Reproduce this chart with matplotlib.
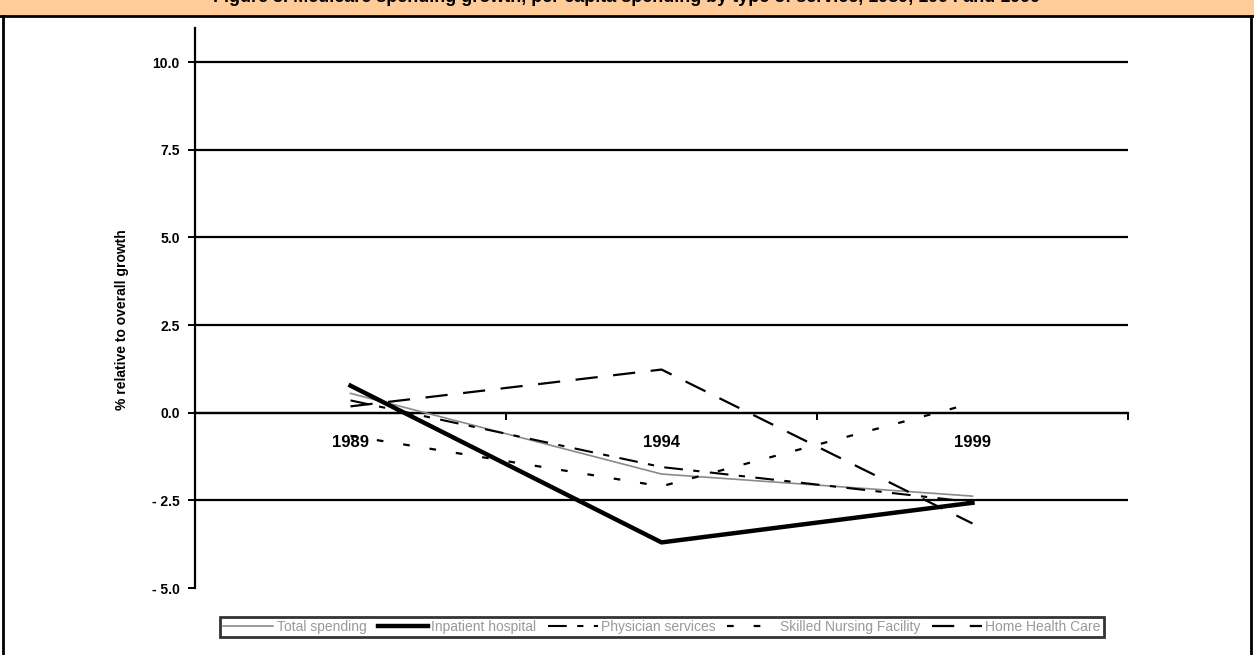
import matplotlib
matplotlib.use("Agg")
import matplotlib.pyplot as plt
from matplotlib.patches import Rectangle
from matplotlib.lines import Line2D

years = ["1989", "1994", "1999"]
total_spending = [0.55, -1.75, -2.38]
inpatient_hospital = [0.77, -3.70, -2.57]
physician_services = [0.35, -1.55, -2.55]
skilled_nursing = [-0.66, -2.10, 0.27]
home_health = [0.18, 1.23, -3.16]
series_names = ["Total spending", "Inpatient hospital", "Physician services",
                "Skilled Nursing Facility", "Home Health Care"]
ytick_values = [-5.0, -2.5, 0.0, 2.5, 5.0, 7.5, 10.0]
ytick_labels = ["- 5.0", "- 2.5", "0.0", "2.5", "5.0", "7.5", "10.0"]
title_text = "Figure 3. Medicare spending growth, per capita spending by type of service, 1989, 1994 and 1999"
ylabel_text = "% relative to overall growth"

W, H = 1254, 655
fig = plt.figure(figsize=(W / 100, H / 100), dpi=100)
fig.patch.set_facecolor("white")

# top band and frame
fig.patches.append(Rectangle((0, 1 - 15 / H), 1, 15 / H, transform=fig.transFigure,
                             facecolor="#FFCC99", edgecolor="none", zorder=0))
fig.lines.append(Line2D([0, 1], [1 - 16 / H, 1 - 16 / H], transform=fig.transFigure,
                        color="black", lw=2))
fig.lines.append(Line2D([3 / W, 3 / W], [0, 1 - 16 / H], transform=fig.transFigure,
                        color="black", lw=2))
fig.lines.append(Line2D([1 - 3 / W, 1 - 3 / W], [0, 1 - 16 / H], transform=fig.transFigure,
                        color="black", lw=2))
fig.text(0.5, 1 - 2 / H, title_text, ha="center", va="baseline",
         fontsize=13, fontweight="bold", family="Liberation Sans")

ax = fig.add_axes([195 / W, 1 - 588 / H, (1128 - 195) / W, (588 - 28) / H])
x = list(range(len(years)))
ax.set_xlim(-0.5, 2.5)
ax.set_ylim(-5.0, 10.97)

for v in ytick_values:
    if v != -5.0:
        ax.axhline(v, color="black", lw=1.6, zorder=1)

ax.plot(x, total_spending, color="#8a8a8a", lw=1.2, label=series_names[0], zorder=3)
ax.plot(x, inpatient_hospital, color="black", lw=3.2, label=series_names[1], zorder=3)
ax.plot(x, physician_services, color="black", lw=1.5, dashes=(9, 5, 3, 5),
        label=series_names[2], zorder=3)
ax.plot(x, skilled_nursing, color="black", lw=1.6, dashes=(3, 9),
        label=series_names[3], zorder=3)
ax.plot(x, home_health, color="black", lw=1.6, dashes=(10, 7),
        label=series_names[4], zorder=3)

for s in ["top", "right"]:
    ax.spines[s].set_visible(False)
ax.spines["left"].set_linewidth(1.6)
ax.spines["bottom"].set_position(("data", 0))
ax.spines["bottom"].set_linewidth(1.6)

ax.set_yticks(ytick_values)
ax.set_yticklabels(ytick_labels, fontsize=10, fontweight="bold", family="Liberation Sans")
ax.tick_params(axis="y", length=5, width=1.4, pad=6)

ax.set_xticks(x)
ax.set_xticklabels(years, fontsize=12, fontweight="bold", family="Liberation Sans")
ax.set_xticks([0.5, 1.5, 2.5], minor=True)
ax.tick_params(axis="x", which="major", length=0, pad=16)
ax.tick_params(axis="x", which="minor", length=5, width=1.4, direction="out")

ax.set_ylabel(ylabel_text, fontsize=10, fontweight="bold", family="Liberation Sans")
ax.yaxis.set_label_coords(-(195 - 129) / (1128 - 195), 0.48)

leg = fig.legend(loc="center", bbox_to_anchor=(662 / W, 1 - 627 / H), ncol=5,
                 frameon=True, fancybox=False, handlelength=3.6,
                 columnspacing=0.8, handletextpad=0.25, borderpad=0.25,
                 prop={"family": "Liberation Sans", "size": 10})
leg.get_frame().set_edgecolor("black")
leg.get_frame().set_linewidth(2)
for t in leg.get_texts():
    t.set_color("#999999")

fig.savefig("out.png", dpi=100, facecolor="white")
